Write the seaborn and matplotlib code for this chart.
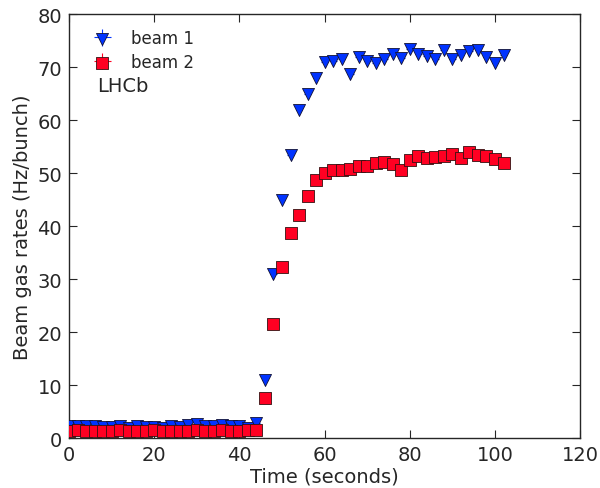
import numpy as np
import pandas as pd
import seaborn as sns
import matplotlib.pyplot as plt
from matplotlib.legend_handler import HandlerTuple

# time axis (seconds), one point every 2 s
time_s = list(range(0, 104, 2))

beam1 = [2.2, 2.3, 2.3, 2.2, 2.1, 2.1, 2.2, 2.0, 2.3, 2.1, 2.1, 2.0,
         2.2, 2.1, 2.4, 2.6, 2.2, 2.3, 2.5, 2.3, 2.2, 2.0, 2.8,
         11.0, 31.0, 45.0, 53.5, 62.0, 65.0, 68.0, 71.0, 71.2, 71.5, 68.7,
         72.0, 71.2, 70.8, 71.5, 72.4, 71.8, 73.4, 72.4, 72.1, 71.5, 73.3,
         71.5, 72.2, 73.0, 73.3, 72.0, 70.8, 72.2]
beam2 = [1.4, 1.5, 1.4, 1.3, 1.4, 1.3, 1.6, 1.3, 1.4, 1.4, 1.5, 1.3,
         1.4, 1.4, 1.3, 1.5, 1.4, 1.3, 1.6, 1.4, 1.4, 1.5, 1.5,
         7.5, 21.5, 32.2, 38.7, 42.1, 45.7, 48.8, 50.0, 50.6, 50.5, 50.8,
         51.4, 51.4, 52.0, 52.1, 51.7, 50.5, 52.5, 53.2, 52.9, 53.1, 53.3,
         53.7, 52.9, 54.0, 53.5, 53.3, 52.6, 52.0]
err1 = [0.4] * len(time_s)
err2 = [0.3] * len(time_s)

df = pd.DataFrame({"t": time_s, "b1": beam1, "b2": beam2, "e1": err1, "e2": err2})

sns.set_style("ticks")
plt.rcParams["font.family"] = ["DejaVu Sans"]

fig = plt.figure(figsize=(6, 4.89), dpi=100)
ax = fig.add_axes([0.115, 0.102, 0.852, 0.867])

blue = "#0033ff"
red = "#ff0022"

eb1 = ax.errorbar(df["t"], df["b1"], yerr=df["e1"], xerr=0.8, fmt="none",
                  ecolor=blue, elinewidth=0.8, zorder=2)
n = len(ax.collections)
sns.scatterplot(data=df, x="t", y="b1", marker="v", color=blue, s=75,
                edgecolor="#111133", linewidth=0.6, ax=ax, zorder=3)
sc1 = ax.collections[n]
eb2 = ax.errorbar(df["t"], df["b2"], yerr=df["e2"], xerr=0.8, fmt="none",
                  ecolor=red, elinewidth=0.8, zorder=2)
n = len(ax.collections)
sns.scatterplot(data=df, x="t", y="b2", marker="s", color=red, s=70,
                edgecolor="#331111", linewidth=0.6, ax=ax, zorder=4)
sc2 = ax.collections[n]

# marker drawn on top of its error cross, as in the old errorbar legend
ax.legend([(eb1, sc1), (eb2, sc2)], ["beam 1", "beam 2"],
          handler_map={tuple: HandlerTuple(ndivide=1, pad=0)},
          loc="upper left", bbox_to_anchor=(0.01, 1.0), frameon=False,
          fontsize=12, handlelength=1.6, borderaxespad=0.5,
          handletextpad=0.9, labelspacing=0.35, scatterpoints=1)

ax.text(6.6, 66.6, "LHCb", fontsize=14, va="center", ha="left")

ax.set_xlim(0, 120)
ax.set_ylim(0, 80)
ax.set_xticks(range(0, 121, 20))
ax.set_yticks(range(0, 81, 10))
ax.tick_params(direction="in", top=True, right=True, labelsize=14, length=6,
               pad=5)
for sp in ax.spines.values():
    sp.set_linewidth(1.0)
    sp.set_visible(True)
ax.set_xlabel("Time (seconds)", fontsize=14, labelpad=2)
ax.set_ylabel("Beam gas rates (Hz/bunch)", fontsize=14, labelpad=4)

fig.savefig("out.png", dpi=100)
